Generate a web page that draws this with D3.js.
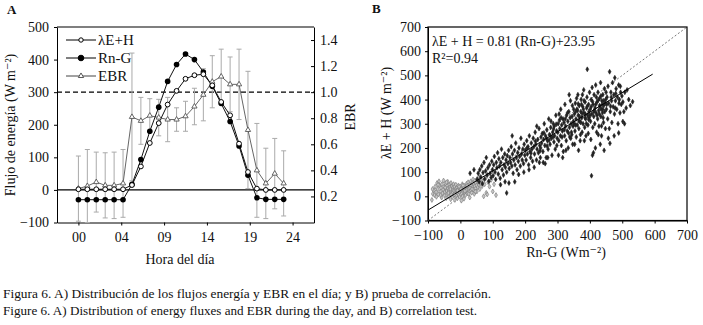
<!DOCTYPE html>
<html>
<head>
<meta charset="utf-8">
<script src="https://cdn.jsdelivr.net/npm/d3@7"></script>
<style>
    body { margin: 0; background: #fff; }
    svg text { font-family: "Liberation Serif", "DejaVu Serif", serif; fill: #111; }
    .axis path, .axis line { stroke: #000; }
</style>
</head>
<body>
<div id="chart"></div>
<script>

// ---- data: panel A (hourly means) ----
const hours = [0, 1, 2, 3, 4, 5, 6, 7, 8, 9, 10, 11, 12, 13, 14, 15, 16, 17, 18, 19, 20, 21, 22, 23];
const leH = [2, 2, 2, 2, 2, 2, 15, 72, 144, 205, 262, 304, 341, 352, 355, 321, 270, 229, 142, 55, 4, 0, 0, 0];
const rnG = [-30, -30, -30, -30, -30, -30, 17, 93, 180, 254, 333, 385, 417, 400, 362, 318, 265, 210, 135, 45, -24, -29, -29, -29];
const ebr = [0.26, 0.28, 0.31, 0.285, 0.285, 0.30, 0.81, 0.78, 0.82, 0.805, 0.79, 0.79, 0.815, 0.89, 0.98, 1.08, 1.12, 1.06, 1.06, 0.71, 0.40, 0.30, 0.375, 0.30];
const ebrErr = [0.25, 0.28, 0.23, 0.25, 0.255, 0.26, 0.49, 0.18, 0.13, 0.14, 0.17, 0.09, 0.115, 0.14, 0.20, 0.20, 0.21, 0.21, 0.27, 0.45, 0.36, 0.27, 0.27, 0.25];

const hourTicks = [0, 4.8, 9.6, 14.4, 19.2, 24];
const hourLabels = ["00", "04", "09", "14", "19", "24"];
const fluxTicks = [-100, 0, 100, 200, 300, 400, 500];
const ebrTicks = [0.2, 0.4, 0.6, 0.8, 1.0, 1.2, 1.4];

// ---- data: panel B (Rn-G vs λE+H) ----
// night / low values (grey)
const greyPts = [
    [-88,-15],[-85,10],[-82,25],[-80,5],[-78,40],[-75,18],[-72,55],[-70,30],[-68,8],[-66,62],[-64,45],[-62,20],[-60,35],[-58,-5],[-57,50],[-55,12],
    [-53,28],[-52,65],[-50,40],[-49,5],[-48,18],[-46,52],[-45,30],[-44,-8],[-42,22],[-41,44],[-40,10],[-39,60],[-38,33],[-36,0],[-35,25],[-34,48],
    [-33,15],[-32,38],[-30,-12],[-30,20],[-29,55],[-28,8],[-27,30],[-26,42],[-25,-3],[-24,18],[-23,35],[-22,26],[-21,50],[-20,5],
    [-19,22],[-18,40],[-17,-15],[-16,12],[-15,30],[-14,48],[-13,2],[-12,25],[-11,18],[-10,36],[-9,-8],[-8,14],[-7,28],[-6,45],[-5,6],[-4,20],
    [-3,32],[-2,-2],[-1,15],[0,26],[1,40],[2,8],[3,-18],[3,22],[4,34],[5,12],[6,50],[7,0],[8,28],[9,18],[10,38],[11,-10],[12,24],[13,14],
    [14,44],[15,30],[16,5],[17,20],[18,36],[19,52],[20,26],
    [22,12],[23,40],[24,58],[25,30],[27,20],[28,48],[29,-5],[30,35],[32,62],[33,25],[34,45],[35,15],[37,55],[38,38],[39,70],[40,28],[42,50],
    [43,10],[44,42],[45,65],[47,32],[48,56],[50,45],[51,20],[52,72],[54,38],[55,60],[57,48],[58,80],[60,30],
    [62,55],[64,70],[67,42],[70,62],[72,0],[75,50],[78,75],[80,14],[83,8],[86,58],[90,40],[95,68],[100,20],[104,50],[110,5],
    [-86,30],[-74,-2],[-69,48],[-61,5],[-47,36],[-43,58],[-37,14],[-31,30],[-18,8],[-9,24],[-4,40],[2,30],[8,45],[14,22],[21,44],[26,10],[36,30],[46,20]
];
// day values (black)
const blackPts = [
    [52,70],[55,95],[58,60],[60,110],[63,80],[66,125],[68,52],[70,98],[73,140],[75,72],[78,105],[80,160],[83,88],[85,118],[88,62],[90,130],
    [92,95],[95,78],[97,145],[99,110],[30,95],[42,110],
    [101,85],[103,130],[105,165],[107,100],[109,70],[111,140],[113,118],[115,180],[117,92],[119,155],[121,125],[123,75],[125,140],[127,195],
    [129,110],[131,160],[133,88],[135,130],[137,175],[139,120],[141,150],[143,100],[145,168],[147,135],[149,190],[124,48],[138,60],[143,14],
    [151,115],[153,160],[155,140],[157,205],[159,125],[161,175],[163,95],[165,150],[167,190],[169,130],[171,220],[173,160],[175,110],[177,180],
    [179,145],[181,200],[183,165],[185,125],[187,240],[189,175],[191,150],[193,195],[195,135],[197,215],[199,170],[160,250],[180,90],[196,100],
    [168,60],[150,55],
    [201,190],[203,150],[205,230],[207,175],[209,205],[211,130],[213,250],[215,185],[217,160],[219,220],[221,195],[223,145],[225,240],[227,205],
    [229,175],[231,265],[233,215],[235,150],[237,195],[239,235],[241,180],[243,280],[245,210],[247,160],[249,245],[212,110],[228,120],[236,290],
    [244,140],[248,200],
    [251,220],[253,260],[255,185],[257,235],[259,300],[261,210],[263,250],[265,160],[267,275],[269,230],[271,195],[273,320],[275,255],[277,215],
    [279,285],[281,240],[283,170],[285,265],[287,300],[289,225],[291,250],[293,195],[295,335],[297,270],[299,240],[256,140],[262,135],[270,160],
    [280,310],[290,290],[298,210],[266,240],[286,245],[274,232],
    [301,265],[302,300],[304,230],[305,340],[307,280],[309,250],[310,360],[312,210],[313,295],[315,270],[317,320],[318,185],[320,305],[322,250],
    [323,380],[325,290],[327,230],[328,335],[330,270],[332,310],[333,200],[335,350],[337,285],[338,245],[340,395],[342,300],[343,265],[345,330],
    [347,215],[348,290],[350,360],[303,170],[316,160],[326,190],[336,420],[344,255],[349,310],[311,325],[321,275],[331,345],[341,240],[346,375],
    [351,300],[352,340],[354,270],[355,385],[357,320],[358,245],[360,360],[361,295],[363,420],[364,335],[366,280],[367,375],[369,310],[370,230],
    [372,350],[373,400],[375,325],[376,265],[378,370],[379,300],[381,440],[382,345],[384,285],[385,390],[387,320],[388,250],[390,365],[391,410],
    [393,335],[394,295],[396,380],[397,350],[399,430],[353,215],[359,405],[365,190],[371,255],[377,420],[383,230],[389,300],[392,525],[395,260],
    [398,325],[362,355],[368,330],[374,380],[380,360],[386,340],
    [401,360],[402,310],[404,400],[405,85],[406,340],[407,450],[409,285],[410,380],[412,330],[413,420],[415,300],[416,365],[418,460],[419,345],
    [421,265],[422,390],[424,320],[425,430],[427,355],[428,290],[430,405],[431,370],[433,470],[434,330],[436,250],[437,395],[439,345],[440,420],
    [442,305],[443,375],[445,445],[446,350],[448,280],[449,400],[403,235],[408,170],[411,180],[417,200],[426,255],[432,215],[438,380],[444,190],
    [414,355],[420,410],[429,340],[435,360],[441,325],[447,385],[436,291],
    [451,360],[453,410],[455,320],[456,455],[458,385],[460,280],[461,515],[463,350],[465,430],[467,395],[468,305],[470,470],[472,370],[474,420],
    [476,340],[477,490],[479,395],[481,445],[483,360],[485,410],[487,300],[489,460],[491,400],[493,345],[495,430],[497,380],[499,415],[457,240],
    [462,219],[475,250],[489,262],[494,455],
    [502,390],[505,350],[508,430],[512,365],[515,440],[520,400],[525,375],[532,391],[507,300],[502,309],
    // extra fill of the dense band
    [206,200],[218,178],[232,228],[246,188],[258,262],[268,208],[278,250],[288,278],[296,298],[306,315],[314,245],[324,320],[334,262],[339,325],
    [356,350],[366,312],[376,342],[385,325],[392,372],[400,335],[408,392],[418,380],[426,398],[434,415],[443,395],[452,380],[466,410],[480,425],
    [356,295],[364,382],[372,305],[382,395],[396,318],[404,370],[412,350],[422,335],[430,375],[440,360],[450,430],[464,372],[478,365],[490,385]
];
const fitSlope = 0.81;
const fitIntercept = 23.95;
const fitRange = [-100, 594];
const bTicks = [-100, 0, 100, 200, 300, 400, 500, 600, 700];


const W = 703, H = 325;
const svg = d3.select("#chart").append("svg")
    .attr("width", W)
    .attr("height", H);

svg.append("rect").attr("width", W).attr("height", H).attr("fill", "#fff");

// ================= PANEL A =================
let x = d3.scaleLinear().domain([-2.4, 26.4]).range([57, 314]);
let y = d3.scaleLinear().domain([-100, 500]).range([222.5, 27]);
let yE = d3.scaleLinear().domain([0, 1.5]).range([222.5, 27]);

let gA = svg.append("g");

// frame top
gA.append("line").attr("x1", 57).attr("x2", 314).attr("y1", 27).attr("y2", 27)
    .attr("stroke", "#000").attr("stroke-width", 1.2);

gA.append("g").attr("class", "axis")
    .attr("transform", "translate(57,0)")
    .call(d3.axisLeft(y).tickValues(fluxTicks).tickSize(3).tickSizeOuter(0)
        .tickFormat(d => d < 0 ? "\u2212" + Math.abs(d) : d))
    .call(g => g.selectAll("text").style("font-size", "14px").attr("dx", "-2"));

gA.append("g").attr("class", "axis")
    .attr("transform", "translate(314,0)")
    .call(d3.axisRight(yE).tickValues(ebrTicks).tickSize(-3).tickSizeOuter(0).tickFormat(d3.format(".1f")))
    .call(g => g.selectAll("text").style("font-size", "14px").attr("x", 6));

gA.append("g").attr("class", "axis")
    .attr("transform", "translate(0,222.5)")
    .call(d3.axisBottom(x).tickValues(hourTicks).tickSize(3).tickSizeOuter(0)
        .tickFormat((d, i) => hourLabels[i]))
    .call(g => g.selectAll("text").style("font-size", "14px").attr("dy", "0.95em"));

// reference lines
gA.append("line").attr("x1", 57).attr("x2", 314).attr("y1", y(0)).attr("y2", y(0))
    .attr("stroke", "#000").attr("stroke-width", 1.3);
gA.append("line").attr("x1", 57).attr("x2", 314).attr("y1", y(300)).attr("y2", y(300))
    .attr("stroke", "#000").attr("stroke-width", 1.2).attr("stroke-dasharray", "5,3");

// EBR error bars
let errG = gA.append("g").attr("stroke", "#aaa").attr("stroke-width", 1);
hours.forEach(function (h, i) {
    let lo = yE(Math.max(0, ebr[i] - ebrErr[i])), hi = yE(ebr[i] + ebrErr[i]);
    errG.append("line").attr("x1", x(h)).attr("x2", x(h)).attr("y1", lo).attr("y2", hi);
    errG.append("line").attr("x1", x(h) - 2.5).attr("x2", x(h) + 2.5).attr("y1", lo).attr("y2", lo);
    errG.append("line").attr("x1", x(h) - 2.5).attr("x2", x(h) + 2.5).attr("y1", hi).attr("y2", hi);
});

// series lines
const lineFlux = vals => d3.line().x((d, i) => x(hours[i])).y(d => y(d))(vals);
const lineEbr = d3.line().x((d, i) => x(hours[i])).y(d => yE(d));

gA.append("path").attr("d", lineEbr(ebr)).attr("fill", "none").attr("stroke", "#666").attr("stroke-width", 1);
gA.append("path").attr("d", lineFlux(leH)).attr("fill", "none").attr("stroke", "#111").attr("stroke-width", 1);
gA.append("path").attr("d", lineFlux(rnG)).attr("fill", "none").attr("stroke", "#111").attr("stroke-width", 1);

const tri = d3.symbol().type(d3.symbolTriangle).size(12);

gA.selectAll(".tri").data(ebr).enter().append("path")
    .attr("class", "tri")
    .attr("d", tri)
    .attr("transform", (d, i) => `translate(${x(hours[i])},${yE(d)})`)
    .attr("fill", "#fff").attr("stroke", "#555").attr("stroke-width", 0.9);

gA.selectAll(".rng").data(rnG).enter().append("circle")
    .attr("class", "rng")
    .attr("cx", (d, i) => x(hours[i])).attr("cy", d => y(d))
    .attr("r", 2.8).attr("fill", "#000");

gA.selectAll(".leh").data(leH).enter().append("circle")
    .attr("class", "leh")
    .attr("cx", (d, i) => x(hours[i])).attr("cy", d => y(d))
    .attr("r", 2.4).attr("fill", "#fff").attr("stroke", "#000").attr("stroke-width", 1);

// legend
let leg = gA.append("g");
[["\u03BBE+H", "open"], ["Rn-G", "filled"], ["EBR", "tri"]].forEach(function (item, i) {
    let ly = 40 + i * 18;
    leg.append("line").attr("x1", 66).attr("x2", 96).attr("y1", ly).attr("y2", ly)
        .attr("stroke", item[1] === "tri" ? "#444" : "#000").attr("stroke-width", 1);
    if (item[1] === "tri") {
        leg.append("path").attr("d", tri).attr("transform", `translate(81,${ly})`)
            .attr("fill", "#fff").attr("stroke", "#444").attr("stroke-width", 0.9);
    } else {
        leg.append("circle").attr("cx", 81).attr("cy", ly).attr("r", item[1] === "open" ? 2.2 : 2.8)
            .attr("fill", item[1] === "open" ? "#fff" : "#000").attr("stroke", "#000");
    }
    leg.append("text").attr("x", 98).attr("y", ly + 5).style("font-size", "15px").text(item[0]);
});

// titles
gA.append("text").attr("x", 7).attr("y", 14).style("font-size", "13px").style("font-weight", "bold").text("A");
gA.append("text").attr("x", 180).attr("y", 264).attr("text-anchor", "middle").style("font-size", "14px").text("Hora del día");
gA.append("text").attr("transform", "translate(15,125) rotate(-90)").attr("text-anchor", "middle")
    .style("font-size", "14px").text("Flujo de energía (W m\u207B\u00B2)");
gA.append("text").attr("transform", "translate(355,117) rotate(-90)").attr("text-anchor", "middle")
    .style("font-size", "14px").text("EBR");

// ================= PANEL B =================
let xB = d3.scaleLinear().domain([-100, 700]).range([428, 687]);
let yB = d3.scaleLinear().domain([-100, 700]).range([220.5, 27]);

let gB = svg.append("g");

gB.append("rect").attr("x", 428).attr("y", 27).attr("width", 259).attr("height", 193.5)
    .attr("fill", "none").attr("stroke", "#000").attr("stroke-width", 1.2);

gB.append("g").attr("class", "axis")
    .attr("transform", "translate(428,0)")
    .call(d3.axisLeft(yB).tickValues(bTicks).tickSize(3).tickSizeOuter(0)
        .tickFormat(d => d < 0 ? "\u2212" + Math.abs(d) : d))
    .call(g => g.selectAll("text").style("font-size", "14px").attr("dx", "-1"));

gB.append("g").attr("class", "axis")
    .attr("transform", "translate(0,220.5)")
    .call(d3.axisBottom(xB).tickValues(bTicks).tickSize(3).tickSizeOuter(0)
        .tickFormat(d => d < 0 ? "\u2212" + Math.abs(d) : d))
    .call(g => g.selectAll("text").style("font-size", "14px").attr("dy", "0.95em"));

// 1:1 line
gB.append("line")
    .attr("x1", xB(-100)).attr("y1", yB(-100)).attr("x2", xB(700)).attr("y2", yB(700))
    .attr("stroke", "#555").attr("stroke-width", 0.8).attr("stroke-dasharray", "2,2");

const dia = d3.symbol().type(d3.symbolDiamond).size(7);

gB.selectAll(".grey").data(greyPts).enter().append("path")
    .attr("class", "grey")
    .attr("d", dia)
    .attr("transform", d => `translate(${xB(d[0])},${yB(d[1])})`)
    .attr("fill", "#c8c8c8").attr("stroke", "#808080").attr("stroke-width", 0.7);

gB.selectAll(".black").data(blackPts).enter().append("path")
    .attr("class", "black")
    .attr("d", dia)
    .attr("transform", d => `translate(${xB(d[0])},${yB(d[1])})`)
    .attr("fill", "#222").attr("stroke", "#222").attr("stroke-width", 0.6);

// regression
gB.append("line")
    .attr("x1", xB(fitRange[0])).attr("y1", yB(fitSlope * fitRange[0] + fitIntercept))
    .attr("x2", xB(fitRange[1])).attr("y2", yB(fitSlope * fitRange[1] + fitIntercept))
    .attr("stroke", "#000").attr("stroke-width", 1);

gB.append("text").attr("x", 432).attr("y", 46).style("font-size", "14px")
    .text("\u03BBE + H = 0.81 (Rn-G)+23.95");
gB.append("text").attr("x", 432).attr("y", 63).style("font-size", "14px").text("R\u00B2=0.94");

gB.append("text").attr("x", 372).attr("y", 13).style("font-size", "13px").style("font-weight", "bold").text("B");
gB.append("text").attr("x", 566).attr("y", 257).attr("text-anchor", "middle").style("font-size", "14px").text("Rn-G (Wm\u207B\u00B2)");
gB.append("text").attr("transform", "translate(391,113) rotate(-90)").attr("text-anchor", "middle")
    .style("font-size", "14px").text("\u03BBE + H (W m\u207B\u00B2)");

// ================= CAPTION =================
svg.append("text").attr("x", 3).attr("y", 298).style("font-size", "12.5px")
    .attr("textLength", 488).attr("lengthAdjust", "spacingAndGlyphs")
    .text("Figura 6. A) Distribución de los flujos energía y EBR en el día; y B) prueba de correlación.");
svg.append("text").attr("x", 3).attr("y", 315).style("font-size", "12.5px")
    .attr("textLength", 474).attr("lengthAdjust", "spacingAndGlyphs")
    .text("Figure 6. A) Distribution of energy fluxes and EBR during the day, and B) correlation test.");

</script>
</body>
</html>
